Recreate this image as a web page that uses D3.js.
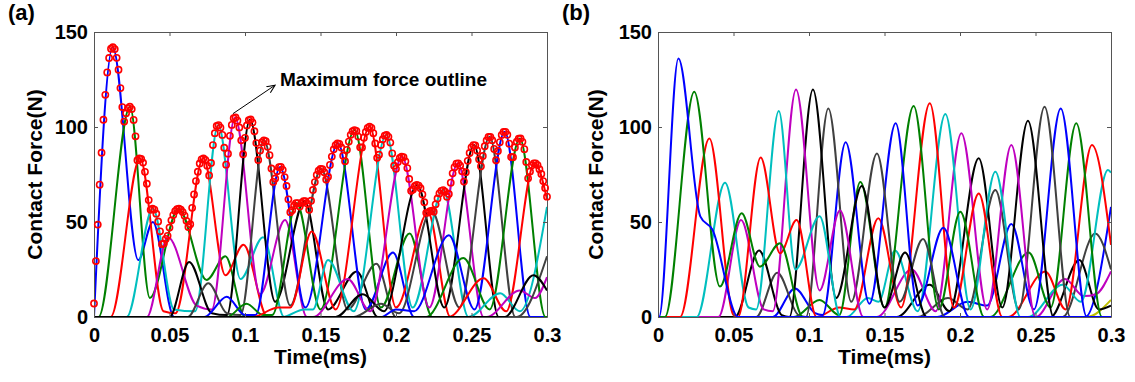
<!DOCTYPE html>
<html><head><meta charset="utf-8">
<script src="https://cdn.jsdelivr.net/npm/d3@7"></script>
<style>
body{margin:0;background:#fff}
svg{display:block}
text{font-family:"Liberation Sans",Arial,sans-serif;font-weight:bold;fill:#000}
</style>
</head><body>
<svg id="chart" width="1135" height="382"></svg>
<script>
// ---------------- data ----------------
const seriesColors = ["#0000FF","#008000","#FF0000","#00BFBF","#BF00BF","#000000","#404040"];
const extraColor = "#BFBF00";
const xTickValues = [0,0.05,0.1,0.15,0.2,0.25,0.3];
const xTickLabels = ["0","0.05","0.1","0.15","0.2","0.25","0.3"];
const yTickValues = [0,50,100,150];
const panelLabels = ["(a)","(b)"];
const xAxisTitle = "Time(ms)";
const yAxisTitle = "Contact Force(N)";
const annotationText = "Maximum force outline";
const annotationFrom = [0.092,107];
const annotationTo = [0.1199,122];
const outlineStep = 0.00125;

// panel (a): contact force of each element, [time ms, force N]
const forceA = [
 [[0,0],[0.0124,142],[0.0293,30],[0.039,50],[0.053,0],[0.3,0]],
 [[0,0],[0.003,0],[0.0238,110.7],[0.037,10],[0.056,57],[0.0746,19.5],[0.087,32],[0.1,0],[0.3,0]],
 [[0,0],[0.011,0],[0.0305,83.5],[0.046,3],[0.054,2],[0.0724,83.5],[0.087,22],[0.099,38],[0.115,0],[0.3,0]],
 [[0,0],[0.0216,0],[0.039,57],[0.053,4],[0.067,3],[0.0823,101],[0.097,20],[0.112,42],[0.126,0],[0.3,0]],
 [[0,0],[0.035,0],[0.049,42],[0.068,6],[0.078,4],[0.0934,105],[0.11,12],[0.1265,51],[0.141,0],[0.3,0]],
 [[0,0],[0.05,0],[0.063,29],[0.078,2],[0.088,1],[0.1033,104],[0.12,8],[0.1395,61],[0.155,4],[0.174,24],[0.188,0],[0.3,0]],
 [[0,0],[0.062,0],[0.0757,17.7],[0.088,2],[0.097,1],[0.1126,93],[0.13,6],[0.1505,78],[0.168,4],[0.187,28],[0.2,0],[0.3,0]],
 [[0,0],[0.073,0],[0.0879,10.7],[0.1,1],[0.107,1],[0.1232,79],[0.14,5],[0.1616,91.4],[0.18,4],[0.198,34],[0.212,0],[0.3,0]],
 [[0,0],[0.088,0],[0.101,7],[0.112,1],[0.118,1],[0.1342,60],[0.15,4],[0.1726,98.4],[0.19,5],[0.209,44],[0.224,0],[0.3,0]],
 [[0,0],[0.105,0],[0.122,5],[0.13,5],[0.1442,45],[0.16,4],[0.1826,100.2],[0.2,5],[0.2212,55],[0.236,0],[0.3,0]],
 [[0,0],[0.125,0],[0.139,4],[0.145,4],[0.155,30],[0.172,3],[0.1936,95.8],[0.211,5],[0.2311,66.8],[0.248,0],[0.3,0]],
 [[0,0],[0.145,0],[0.168,20],[0.183,3],[0.204,84.4],[0.222,5],[0.241,80.9],[0.258,0],[0.3,0]],
 [[0,0],[0.16,0],[0.178,12],[0.192,3],[0.2141,69.5],[0.232,5],[0.2517,90.5],[0.268,0],[0.3,0]],
 [[0,0],[0.172,0],[0.19,7],[0.202,2],[0.2235,56],[0.242,5],[0.262,94.9],[0.279,0],[0.3,0]],
 [[0,0],[0.19,0],[0.2,4],[0.212,3],[0.235,43],[0.252,4],[0.272,97.5],[0.289,0],[0.3,0]],
 [[0,0],[0.22,0],[0.2446,31],[0.262,4],[0.282,94],[0.299,0],[0.3,0]],
 [[0,0],[0.235,0],[0.258,20.4],[0.273,3],[0.2918,81],[0.3,62]],
 [[0,0],[0.248,0],[0.269,12.5],[0.282,3],[0.3,58]],
 [[0,0],[0.26,0],[0.282,14],[0.292,10],[0.3,21]],
 [[0,0],[0.272,0],[0.291,22],[0.3,14]],
 [[0,0],[0.28,0],[0.3,32]]
];

// panel (b)
const forceB = [
 [[0,0],[0.0007,0],[0.0135,136],[0.028,53],[0.036,46],[0.053,0],[0.3,0]],
 [[0,0],[0.0046,0],[0.024,118.6],[0.041,16],[0.0554,54.6],[0.0675,26.5],[0.0808,38.8],[0.096,0],[0.3,0]],
 [[0,0],[0.0146,0],[0.034,94],[0.05,1],[0.053,0],[0.068,84],[0.0808,33.5],[0.0918,51],[0.105,0],[0.3,0]],
 [[0,0],[0.0256,0],[0.0444,70.7],[0.06,5],[0.065,4],[0.08,108.4],[0.091,25],[0.107,53],[0.121,0],[0.3,0]],
 [[0,0],[0.04,0],[0.055,51],[0.07,4],[0.076,3],[0.0914,119.8],[0.107,14],[0.1205,56],[0.136,0],[0.3,0]],
 [[0,0],[0.051,0],[0.0669,35],[0.082,1],[0.087,0],[0.1026,119.8],[0.118,10],[0.135,69],[0.15,5],[0.1636,34],[0.178,0],[0.3,0]],
 [[0,0],[0.065,0],[0.079,23.3],[0.093,1],[0.098,0],[0.1128,109.8],[0.128,8],[0.145,86],[0.16,8],[0.1755,41],[0.19,0],[0.3,0]],
 [[0,0],[0.076,0],[0.0907,15],[0.104,2],[0.109,1],[0.1243,92],[0.14,7],[0.1574,102],[0.172,6],[0.189,47],[0.206,0],[0.3,0]],
 [[0,0],[0.09,0],[0.107,9],[0.12,1],[0.134,71],[0.15,5],[0.1693,111],[0.186,4],[0.2002,55.4],[0.216,0],[0.3,0]],
 [[0,0],[0.105,0],[0.12,5],[0.13,4],[0.1459,52],[0.161,5],[0.18,112.5],[0.196,5],[0.2124,65],[0.228,0],[0.3,0]],
 [[0,0],[0.125,0],[0.139,10],[0.146,8],[0.157,35],[0.172,3],[0.1903,106.8],[0.207,4],[0.2234,76.5],[0.24,0],[0.3,0]],
 [[0,0],[0.145,0],[0.168,25],[0.184,3],[0.2009,96.7],[0.218,4],[0.234,90.5],[0.25,0],[0.3,0]],
 [[0,0],[0.158,0],[0.18,17],[0.193,3],[0.2124,83.5],[0.228,5],[0.245,103.3],[0.262,0],[0.3,0]],
 [[0,0],[0.172,0],[0.192,10],[0.205,4],[0.2234,66.8],[0.239,4],[0.256,110.7],[0.273,0],[0.3,0]],
 [[0,0],[0.185,0],[0.205,8],[0.218,6],[0.234,49],[0.249,4],[0.2667,109.8],[0.284,0],[0.3,0]],
 [[0,0],[0.22,0],[0.2455,34],[0.26,5],[0.277,102],[0.294,0],[0.3,0]],
 [[0,0],[0.232,0],[0.2565,24],[0.27,4],[0.2874,90.5],[0.3,38]],
 [[0,0],[0.245,0],[0.268,17],[0.28,8],[0.298,77.4],[0.3,76]],
 [[0,0],[0.25,0],[0.2695,20],[0.282,11],[0.29,12],[0.3,24]],
 [[0,0],[0.26,0],[0.279,30],[0.292,4],[0.3,6]],
 [[0,0],[0.268,0],[0.2896,44],[0.3,25]],
 [[0,0],[0.283,0],[0.3,58]]
];
const forceBExtra = [[0.27,0],[0.284,0],[0.3,9]];

// ---------------- drawing ----------------
const svg = d3.select("#chart");
const plotTop = 32, plotBottom = 317;
const panels = [
  {data: forceA, extra: null, left: 94, right: 547, reverse: false, topIndex: 19, outline: true, labelX: 8, yTitleX: 41.5},
  {data: forceB, extra: forceBExtra, left: 658, right: 1111, reverse: true, topIndex: null, outline: false, labelX: 562, yTitleX: 603}
];

const defs = svg.append("defs");
defs.append("marker").attr("id","arrowHead").attr("viewBox","0 0 10 10")
  .attr("refX",9).attr("refY",5).attr("markerWidth",9).attr("markerHeight",9)
  .attr("markerUnits","userSpaceOnUse").attr("orient","auto")
  .append("path").attr("d","M0,1 L9,5 L0,9").attr("fill","none").attr("stroke","#000").attr("stroke-width",1.2);

panels.forEach((p, pi) => {
  const x = d3.scaleLinear().domain([0,0.3]).range([p.left,p.right]);
  const y = d3.scaleLinear().domain([0,150]).range([plotBottom,plotTop]);
  const clipId = "clip"+pi;
  defs.append("clipPath").attr("id",clipId).append("rect")
    .attr("x",p.left).attr("y",plotTop-2).attr("width",p.right-p.left+1).attr("height",plotBottom-plotTop+4);

  const g = svg.append("g");
  const line = d3.line().x(d=>x(d[0])).y(d=>y(d[1])).curve(d3.curveMonotoneX);

  let series = p.data.map((pts,i)=>({pts, color: seriesColors[i%seriesColors.length]}));
  if (p.extra) series.push({pts: p.extra, color: extraColor});
  if (p.reverse) series = series.slice().reverse();
  if (p.topIndex !== null) {
    const s = series.splice(p.topIndex,1)[0];
    series.push(s);
  }

  const lines = g.append("g").attr("clip-path","url(#"+clipId+")");
  const paths = lines.selectAll("path").data(series).join("path")
    .attr("d", d=>line(d.pts)).attr("fill","none")
    .attr("stroke", d=>d.color).attr("stroke-width",2).attr("stroke-linejoin","round");

  // axes
  const axG = g.append("g");
  axG.append("g").attr("transform",`translate(0,${plotBottom})`)
    .call(d3.axisBottom(x).tickValues(xTickValues).tickFormat((d,i)=>xTickLabels[i]).tickSizeInner(-4).tickSizeOuter(0).tickPadding(11));
  axG.append("g").attr("transform",`translate(0,${plotTop})`)
    .call(d3.axisTop(x).tickValues(xTickValues).tickFormat("").tickSizeInner(-4).tickSizeOuter(0));
  axG.append("g").attr("transform",`translate(${p.left},0)`)
    .call(d3.axisLeft(y).tickValues(yTickValues).tickSizeInner(-4).tickSizeOuter(0).tickPadding(6));
  axG.append("g").attr("transform",`translate(${p.right},0)`)
    .call(d3.axisRight(y).tickValues(yTickValues).tickFormat("").tickSizeInner(-4).tickSizeOuter(0));
  axG.selectAll(".domain").attr("stroke","#555").attr("stroke-width",1);
  axG.selectAll(".tick line").attr("stroke","#555");
  axG.selectAll(".tick text").attr("font-size",20).attr("font-family",null).attr("font-weight","bold").attr("fill","#000");

  // titles
  svg.append("text").attr("x",(p.left+p.right)/2).attr("y",364).attr("text-anchor","middle")
    .attr("font-size",21).text(xAxisTitle);
  svg.append("text").attr("transform",`translate(${p.yTitleX},${(plotTop+plotBottom)/2}) rotate(-90)`)
    .attr("text-anchor","middle").attr("font-size",21).text(yAxisTitle);
  svg.append("text").attr("x",p.labelX).attr("y",20).attr("font-size",22).text(panelLabels[pi]);

  if (p.outline) {
    // maximum force outline: highest drawn curve at each time step
    const env = new Map();
    paths.each(function(){
      const L = this.getTotalLength();
      for (let s=0; s<=L; s+=0.5) {
        const pt = this.getPointAtLength(s);
        const k = Math.round(pt.x*4);
        const prev = env.get(k);
        if (prev === undefined || pt.y < prev) env.set(k, pt.y);
      }
    });
    const times = d3.range(0, 0.3+1e-9, outlineStep);
    const marks = times.map(t=>{
      const px = x(t), k0 = Math.round(px*4);
      let best = Infinity;
      for (let k=k0-2;k<=k0+2;k++){ const v = env.get(k); if (v!==undefined && v<best) best=v; }
      return [px, best];
    }).filter(d=>isFinite(d[1]));
    g.append("g").selectAll("circle").data(marks).join("circle")
      .attr("cx",d=>d[0]).attr("cy",d=>d[1]).attr("r",3.1)
      .attr("fill","none").attr("stroke","#FF0000").attr("stroke-width",1.6);

    // annotation
    g.append("line").attr("x1",x(annotationFrom[0])).attr("y1",y(annotationFrom[1]))
      .attr("x2",x(annotationTo[0])).attr("y2",y(annotationTo[1]))
      .attr("stroke","#000").attr("stroke-width",1).attr("marker-end","url(#arrowHead)");
    g.append("text").attr("x",x(annotationTo[0])+5).attr("y",y(annotationTo[1])+1)
      .attr("font-size",19).text(annotationText);
  }
});
</script>
</body></html>
